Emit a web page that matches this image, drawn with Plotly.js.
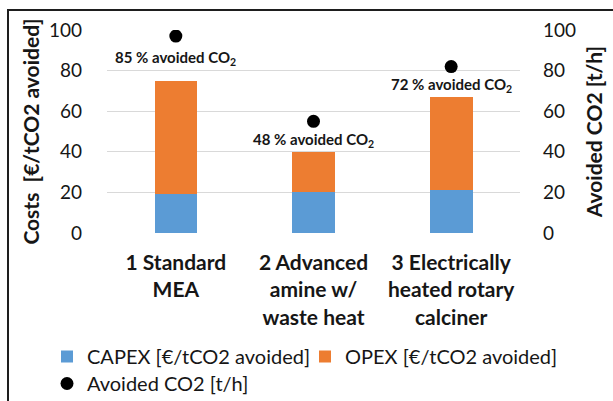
<!DOCTYPE html>
<html>
<head>
<meta charset="utf-8">
<script src="https://cdn.plot.ly/plotly-3.0.1.min.js"></script>
<style>
  html, body { margin: 0; padding: 0; background: #ffffff; }
  #wrap { position: relative; width: 613px; height: 401px; overflow: hidden; }
  #chart { position: absolute; left: 0; top: 0; width: 613px; height: 401px; }
  #frame { position: absolute; left: 7px; top: 9px; width: 700px; height: 500px;
           border: 2px solid #1e1e1e; box-sizing: border-box; pointer-events: none; }
</style>
</head>
<body>
<div id="wrap">
  <div id="chart"></div>
  <div id="frame"></div>
</div>
<script>
// ---- data ----
const categories = [
  "1 Standard<br>MEA",
  "2 Advanced<br>amine w/<br>waste heat",
  "3 Electrically<br>heated rotary<br>calciner"
];
const capex = [19, 20, 21];
const opex = [56, 20, 46];
const avoidedCO2 = [97, 55, 82];
const avoidedPctLabels = ["85 % avoided CO<sub>2</sub>", "48 % avoided CO<sub>2</sub>", "72 % avoided CO<sub>2</sub>"];
const labelY = [86, 46, 73];
const yTicks = [0, 20, 40, 60, 80, 100];

const FONT = "Lato, 'Open Sans', sans-serif";
const TXT = "#161616";

const traces = [
  {
    type: "bar", name: "CAPEX [€/tCO2 avoided]", x: categories, y: capex,
    marker: { color: "#5B9BD5" }, width: 0.31, legend: "legend"
  },
  {
    type: "bar", name: "OPEX [€/tCO2 avoided]", x: categories, y: opex,
    marker: { color: "#ED7D31" }, width: 0.31, legend: "legend2"
  },
  {
    type: "scatter", mode: "markers", name: "Avoided CO2 [t/h]", x: categories, y: avoidedCO2,
    yaxis: "y2", marker: { color: "#000000", size: 13 }, legend: "legend3"
  }
];

const annotations = categories.map((c, i) => ({
  x: c, y: labelY[i], xref: "x", yref: "y", text: "<b>" + avoidedPctLabels[i] + "</b>",
  showarrow: false, font: { family: FONT, size: 15, color: TXT }
}));

function legendAt(px, pyTop) {
  return {
    orientation: "h", xref: "container", yref: "container", x: px / 613, y: 1 - pyTop / 401,
    xanchor: "left", yanchor: "top", font: { family: FONT, size: 20, color: TXT },
    bgcolor: "rgba(0,0,0,0)", itemclick: false
  };
}

const layout = {
  width: 613, height: 401,
  margin: { l: 107, r: 93, t: 30, b: 168 },
  paper_bgcolor: "#ffffff", plot_bgcolor: "#ffffff",
  font: { family: FONT, color: TXT },
  barmode: "stack",
  showlegend: true,
  xaxis: {
    type: "category", showgrid: false, zeroline: false, showline: false, ticks: "",
    tickfont: { family: FONT, size: 21, color: TXT, weight: "bold" },
    ticklabelstandoff: 15
  },
  yaxis: {
    range: [0, 100], tickvals: yTicks, showgrid: true, gridcolor: "#d9d9d9", gridwidth: 1,
    zeroline: false, showline: false, ticks: "",
    tickfont: { family: FONT, size: 19, color: TXT }, ticklabelstandoff: 24,
    title: { text: "<b>Costs  [€/tCO2 avoided]</b>", font: { family: FONT, size: 21, color: TXT }, standoff: 3 }
  },
  yaxis2: {
    range: [0, 100], tickvals: yTicks, overlaying: "y", side: "right", showgrid: false,
    zeroline: false, showline: false, ticks: "",
    tickfont: { family: FONT, size: 19, color: TXT }, ticklabelstandoff: 22,
    title: { text: "<b>Avoided CO2 [t/h]</b>", font: { family: FONT, size: 21, color: TXT }, standoff: 12 }
  },
  legend: legendAt(47, 337),
  legend2: legendAt(305, 337),
  legend3: legendAt(47, 364),
  annotations: annotations
};

Plotly.newPlot("chart", traces, layout, { displayModeBar: false, staticPlot: true });
</script>
</body>
</html>
